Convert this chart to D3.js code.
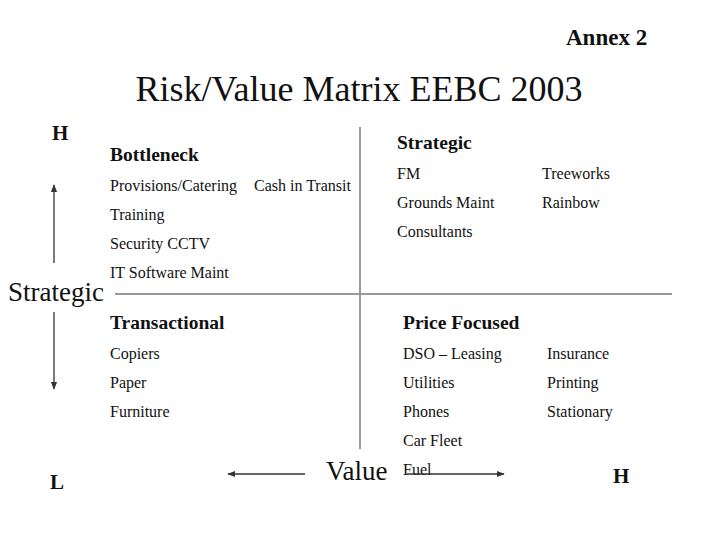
<!DOCTYPE html>
<html><head><meta charset="utf-8">
<script src="https://cdn.jsdelivr.net/npm/d3@7"></script>
<style>body{margin:0;background:#fff}svg text{font-family:"Liberation Serif","Times New Roman",serif;fill:#111}</style>
</head><body><svg id="c" width="720" height="540"></svg>
<script>
const titleText = "Risk/Value Matrix EEBC 2003";
const annexText = "Annex 2";
const quadrantNames = ["Bottleneck", "Strategic", "Transactional", "Price Focused"];
const bottleneckCol1 = ["Provisions/Catering", "Training", "Security CCTV", "IT Software Maint"];
const bottleneckCol2 = ["Cash in Transit"];
const strategicCol1 = ["FM", "Grounds Maint", "Consultants"];
const strategicCol2 = ["Treeworks", "Rainbow"];
const transactionalCol1 = ["Copiers", "Paper", "Furniture"];
const transactionalCol2 = [];
const priceCol1 = ["DSO \u2013 Leasing", "Utilities", "Phones", "Car Fleet", "Fuel"];
const priceCol2 = ["Insurance", "Printing", "Stationary"];
const axisLabels = {y: "Strategic", x: "Value", yHigh: "H", yLow: "L", xHigh: "H"};

const svg = d3.select("#c");
const defs = svg.append("defs");
defs.append("marker").attr("id","ah").attr("viewBox","0 0 10 10").attr("refX",9).attr("refY",5)
  .attr("markerWidth",6).attr("markerHeight",6).attr("orient","auto-start-reverse")
  .append("path").attr("d","M0,1 L10,5 L0,9 Z").attr("fill","#333");

// title
svg.append("text").attr("x",566).attr("y",45).attr("font-size",23).attr("font-weight","bold").text(annexText);
svg.append("text").attr("x",359).attr("y",101).attr("text-anchor","middle").attr("font-size",36).text(titleText);

// matrix lines
const xs = d3.scaleLinear().domain([0,1]).range([115,672]);
const ys = d3.scaleLinear().domain([0,1]).range([449,127]);
svg.append("line").attr("x1",360).attr("x2",360).attr("y1",ys(1)).attr("y2",ys(0))
  .attr("stroke","#999").attr("stroke-width",2);
svg.append("line").attr("x1",xs(0)).attr("x2",xs(1)).attr("y1",294).attr("y2",294)
  .attr("stroke","#999").attr("stroke-width",2);

// quadrants
const quads = [
  {name: quadrantNames[0], c1: bottleneckCol1, c2: bottleneckCol2, x: 110, x2: 254, hy: 161},
  {name: quadrantNames[1], c1: strategicCol1, c2: strategicCol2, x: 397, x2: 542, hy: 149},
  {name: quadrantNames[2], c1: transactionalCol1, c2: transactionalCol2, x: 110, x2: 254, hy: 329},
  {name: quadrantNames[3], c1: priceCol1, c2: priceCol2, x: 403, x2: 547, hy: 329}
];
const rowGap = 29;
const g = svg.selectAll("g.q").data(quads).join("g").attr("class","q");
g.append("text").attr("x",d=>d.x).attr("y",d=>d.hy).attr("font-size",19.5).attr("font-weight","bold").text(d=>d.name);
g.each(function(d){
  const s = d3.select(this);
  s.selectAll("text.c1").data(d.c1).join("text").attr("class","c1")
    .attr("x",d.x).attr("y",(t,i)=>d.hy+30+i*rowGap).attr("font-size",16).text(t=>t);
  s.selectAll("text.c2").data(d.c2).join("text").attr("class","c2")
    .attr("x",d.x2).attr("y",(t,i)=>d.hy+30+i*rowGap).attr("font-size",16).text(t=>t);
});

// axis labels & arrows
svg.append("text").attr("x",52).attr("y",140).attr("font-size",21).attr("font-weight","bold").text(axisLabels.yHigh);
svg.append("text").attr("x",50).attr("y",489).attr("font-size",21).attr("font-weight","bold").text(axisLabels.yLow);
svg.append("text").attr("x",613).attr("y",483).attr("font-size",21).attr("font-weight","bold").text(axisLabels.xHigh);
svg.append("text").attr("x",8).attr("y",301).attr("font-size",27).text(axisLabels.y);
svg.append("text").attr("x",326).attr("y",480).attr("font-size",27).text(axisLabels.x);

const arrow = (x1,y1,x2,y2)=>svg.append("line").attr("x1",x1).attr("y1",y1).attr("x2",x2).attr("y2",y2)
  .attr("stroke","#333").attr("stroke-width",1.3).attr("marker-end","url(#ah)");
arrow(54,263,54,185);
arrow(54,312,54,389);
arrow(305,474,228,474);
arrow(407,474,504,474);
</script></body></html>
